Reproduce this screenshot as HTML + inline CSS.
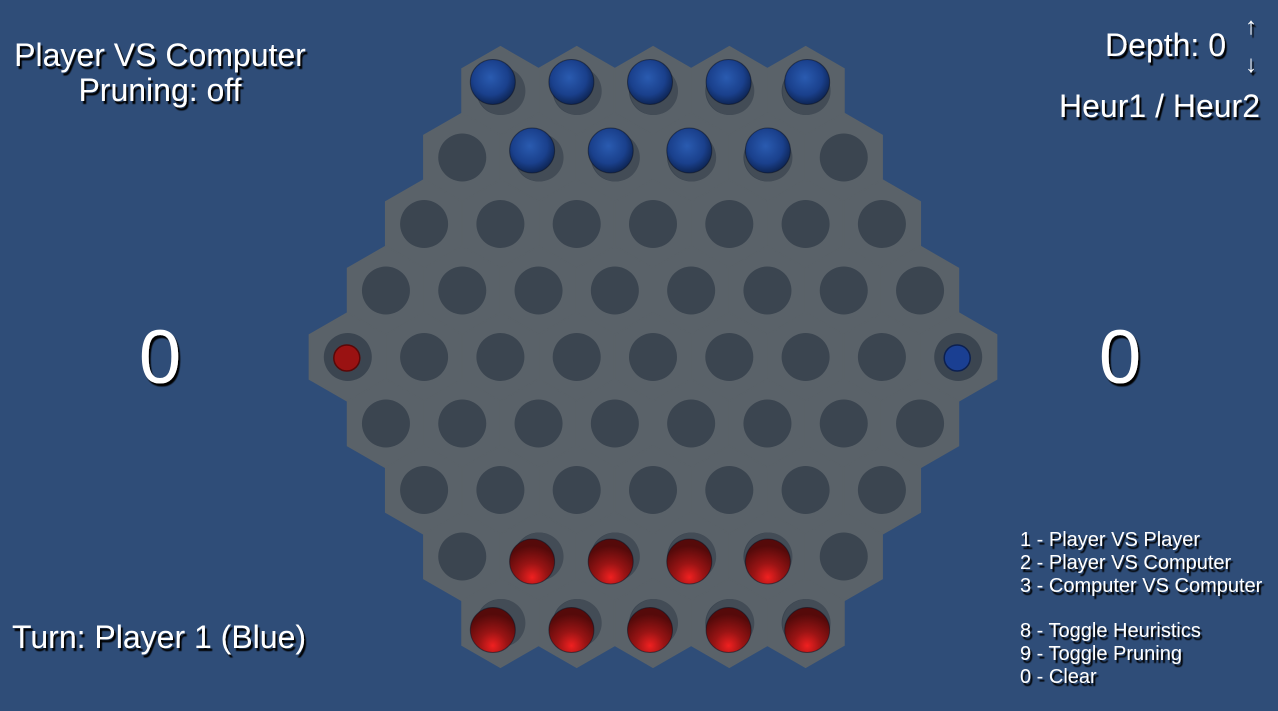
<!DOCTYPE html>
<html><head><meta charset="utf-8">
<style>
html,body{margin:0;padding:0;background:#2f4d78;width:1278px;height:711px;overflow:hidden}
svg{display:block}
text{font-family:"Liberation Sans",sans-serif;fill:#fff}
</style></head>
<body>
<svg id="scene" width="1278" height="711" viewBox="0 0 1278 711">
<defs>
<radialGradient id="blueG" cx="0.45" cy="0.4" r="0.65">
<stop offset="0" stop-color="#2a5bb0"/><stop offset="0.6" stop-color="#1a408c"/><stop offset="1" stop-color="#0b1f48"/>
</radialGradient>
<radialGradient id="redG" cx="0.5" cy="0.85" r="0.7">
<stop offset="0" stop-color="#f02020"/><stop offset="0.45" stop-color="#9a1414"/><stop offset="1" stop-color="#550a0a"/>
</radialGradient>
<filter id="ts" x="-10%" y="-10%" width="130%" height="140%"><feDropShadow dx="2" dy="3" stdDeviation="0.6" flood-color="#000" flood-opacity="1"/></filter>
</defs>
<g id="board"></g>
<g id="holes"></g>
<g id="pieces"></g>

<g filter="url(#ts)">
<text x="160" y="66" font-size="32" text-anchor="middle">Player VS Computer</text>
<text x="160" y="101" font-size="32" text-anchor="middle">Pruning: off</text>
<text x="160" y="383" font-size="76" text-anchor="middle">0</text>
<text x="1120" y="383" font-size="76" text-anchor="middle">0</text>
<text x="12" y="648" font-size="32">Turn: Player 1 (Blue)</text>
<text x="1226" y="56" font-size="32" text-anchor="end">Depth: 0</text>
<text x="1251" y="34" font-size="24" text-anchor="middle">↑</text>
<text x="1251" y="72" font-size="24" text-anchor="middle">↓</text>
<text x="1260" y="117" font-size="32" text-anchor="end">Heur1 / Heur2</text>
<g font-size="20">
<text x="1020" y="546">1 - Player VS Player</text>
<text x="1020" y="569">2 - Player VS Computer</text>
<text x="1020" y="592">3 - Computer VS Computer</text>
<text x="1020" y="637">8 - Toggle Heuristics</text>
<text x="1020" y="660">9 - Toggle Pruning</text>
<text x="1020" y="683">0 - Clear</text>
</g>
</g>
</svg>
<script>
const rowCounts=[5,6,7,8,9,8,7,6,5];
const blueCells=[[0,0],[0,1],[0,2],[0,3],[0,4],[1,1],[1,2],[1,3],[1,4]];
const redCells=[[7,1],[7,2],[7,3],[7,4],[8,0],[8,1],[8,2],[8,3],[8,4]];
const capturedMarkers=[[4,0,'red'],[4,8,'blue']];
const NS='http://www.w3.org/2000/svg';
const DX=76.3,DY=66.5,X0=653,Y0=91,HW=38.4,HH=44.3;
function cx(r,c){return X0+(c-(rowCounts[r]-1)/2)*DX;}
function cy(r){return Y0+r*DY;}
const board=document.getElementById('board'),holes=document.getElementById('holes'),pieces=document.getElementById('pieces');
function mk(tag,attrs){const e=document.createElementNS(NS,tag);for(const k in attrs)e.setAttribute(k,attrs[k]);return e;}
rowCounts.forEach((n,r)=>{for(let c=0;c<n;c++){
  const x=cx(r,c),y=cy(r);
  const pts=[[x,y-HH],[x+HW,y-HH/2],[x+HW,y+HH/2],[x,y+HH],[x-HW,y+HH/2],[x-HW,y-HH/2]].map(p=>p.join(',')).join(' ');
  const h=mk('polygon',{points:pts,fill:'#5a6269',stroke:'#5a6269','stroke-width':'1.5'});
  
  
  board.appendChild(h);
  const hole=mk('circle',{cx:x,cy:y,r:24,fill:'#3b4550'});
  
  
  holes.appendChild(hole);
}});
function drawPiece(r,c,grad,name){
  const x=cx(r,c),y=cy(r);
  const ox=(x-X0)*0.03, oy=(r-4)*2;
  const g=mk('g',{});
  
  
  g.appendChild(mk('circle',{cx:x+1,cy:y,r:24,fill:'#434c56'}));
  g.appendChild(mk('circle',{cx:x+ox-3,cy:y+oy-1,r:22.5,fill:'url(#'+grad+')',stroke:'#0a1020','stroke-opacity':'0.5','stroke-width':'1'}));
  pieces.appendChild(g);
}
blueCells.forEach(([r,c])=>drawPiece(r,c,'blueG','blue-marble'));
redCells.forEach(([r,c])=>drawPiece(r,c,'redG','red-marble'));
capturedMarkers.forEach(([r,c,col])=>{
  const m=mk('circle',{cx:cx(r,c)-1,cy:cy(r)+1,r:13,fill:col==='red'?'#9a1212':'#1a3f92',stroke:col==='red'?'#5a0808':'#0c2050','stroke-width':'1.5'});
  
  
  pieces.appendChild(m);
});
</script>
</body></html>
